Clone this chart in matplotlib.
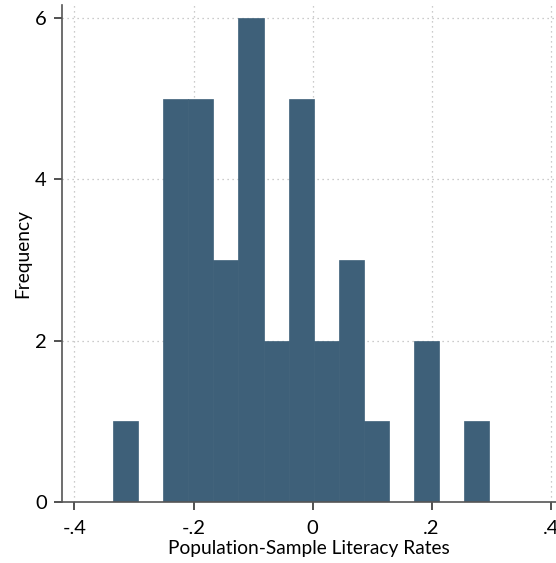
import numpy as np
import matplotlib
matplotlib.use("Agg")
from matplotlib import pyplot as plt

# histogram of differences, 15 bins
bin_start = -0.335
bin_width = 0.04211
counts = [1, 0, 5, 5, 3, 6, 2, 5, 2, 3, 1, 0, 2, 0, 1]
xticks = [-0.4, -0.2, 0, 0.2, 0.4]
xticklabels = ["-.4", "-.2", "0", ".2", ".4"]
yticks = [0, 2, 4, 6]

plt.rcParams['font.family'] = ['Lato', 'DejaVu Sans']

fig = plt.figure(figsize=(5.56, 5.63), dpi=100)
ax = fig.add_axes([0.1115, 0.1083, 0.8885, 0.8825])

edges = bin_start + bin_width * np.arange(len(counts) + 1)
ax.bar(edges[:-1], counts, width=bin_width, align='edge',
       color='#3e6079', edgecolor='#3e6079', linewidth=0.5, zorder=2)

ax.set_xlim(-0.421, 0.409)
ax.set_ylim(0, 6.16)
ax.set_xticks(xticks)
ax.set_xticklabels(xticklabels)
ax.set_yticks(yticks)

for x in xticks:
    ax.axvline(x, color='#bbbbbb', linestyle=(0, (1, 3)), linewidth=0.9, zorder=1)
for y in yticks[1:]:
    ax.axhline(y, color='#bbbbbb', linestyle=(0, (1, 3)), linewidth=0.9, zorder=1)

for s in ['top', 'right']:
    ax.spines[s].set_visible(False)
for s in ['left', 'bottom']:
    ax.spines[s].set_color('#555555')
    ax.spines[s].set_linewidth(1.2)

ax.tick_params(axis='both', direction='out', length=6, width=1.2, color='#333333',
               labelsize=14.5, pad=5)
ax.tick_params(axis='x', pad=7)
ax.set_xlabel("Population-Sample Literacy Rates", fontsize=13.8, labelpad=2)
ax.set_ylabel("Frequency", fontsize=13.8, labelpad=3)

fig.savefig("out.png", dpi=100)
